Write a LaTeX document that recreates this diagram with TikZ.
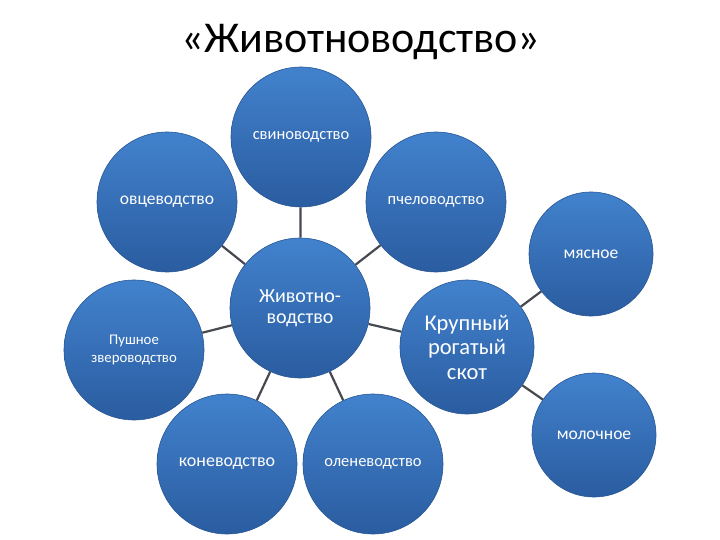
\documentclass[tikz,border=0pt]{standalone}
\usepackage{fontspec}
\setmainfont{Carlito}
\usetikzlibrary{backgrounds}
\definecolor{bluetop}{RGB}{66,130,205}
\definecolor{bluebot}{RGB}{42,92,160}
\definecolor{blueedge}{RGB}{40,86,148}
\definecolor{linkgray}{RGB}{70,74,80}
\tikzset{
  bigcirc/.style={circle, minimum size=140pt, inner sep=0pt, top color=bluetop, bottom color=bluebot, draw=blueedge, line width=0.6pt, text=white, align=center, font=\fontsize{16.5}{19}\selectfont},
  smallcirc/.style={bigcirc, minimum size=124pt, font=\fontsize{17.5}{20}\selectfont},
  link/.style={draw=linkgray, line width=2.2pt}
}
\begin{document}
\begin{tikzpicture}[x=1pt,y=-1pt]
\useasboundingbox (0,0) rectangle (720,540);
\node (title) at (361,42) {\fontsize{44}{48}\selectfont «Животноводство»};
\node[bigcirc, font=\fontsize{20}{21.5}\selectfont] (center) at (300,308) {Животно-\\водство};
\node[bigcirc] (svin) at (301,137) {свиноводство};
\node[bigcirc, font=\fontsize{17.5}{20}\selectfont] (ovc) at (167,202) {овцеводство};
\node[bigcirc] (pchel) at (436,202) {пчеловодство};
\node[bigcirc, font=\fontsize{14.8}{18}\selectfont] (push) at (134,350) {Пушное\\звероводство};
\node[bigcirc, font=\fontsize{18}{20}\selectfont] (kon) at (227,464) {коневодство};
\node[bigcirc] (olen) at (373,464) {оленеводство};
\node[bigcirc, minimum size=134pt, font=\fontsize{22.5}{24.5}\selectfont] (krs) at (467,347) {Крупный\\рогатый\\скот};
\node[smallcirc] (myas) at (591,254) {мясное};
\node[smallcirc] (mol) at (594,435) {молочное};
\begin{scope}[on background layer]
\draw[link] (center) -- (svin);
\draw[link] (center) -- (ovc);
\draw[link] (center) -- (pchel);
\draw[link] (center) -- (push);
\draw[link] (center) -- (kon);
\draw[link] (center) -- (olen);
\draw[link] (center) -- (krs);
\draw[link] (krs) -- (myas);
\draw[link] (krs) -- (mol);
\end{scope}
\end{tikzpicture}
\end{document}
